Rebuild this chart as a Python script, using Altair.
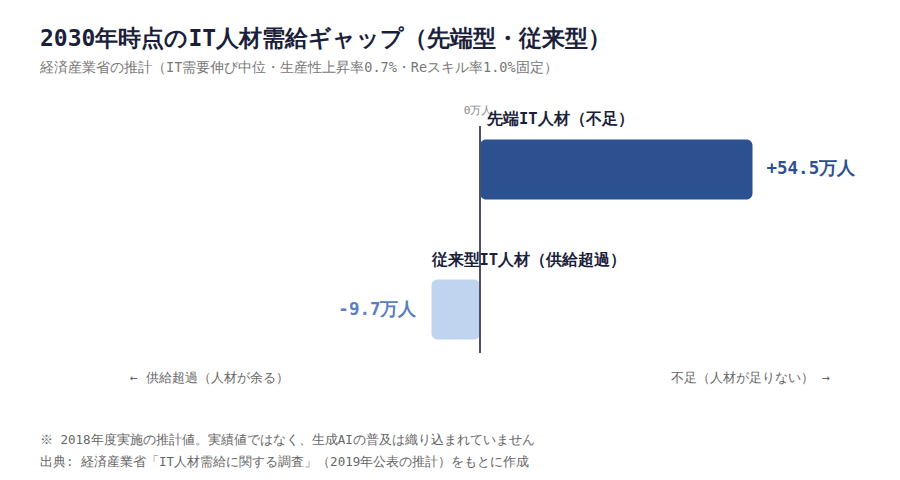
import altair as alt
import pandas as pd

# 2030年時点の需給ギャップ（万人）
categories = ["先端IT人材（不足）", "従来型IT人材（供給超過）"]
gaps = [54.5, -9.7]
value_labels = ["+54.5万人", "-9.7万人"]
bar_colors = ["#2d5090", "#c0d3ef"]
text_colors = ["#2d5090", "#5a7fc1"]

zero_label = "0万人"
arrow_left = "← 供給超過（人材が余る）"
arrow_right = "不足（人材が足りない） →"
note_1 = "※ 2018年度実施の推計値。実績値ではなく、生成AIの普及は織り込まれていません"
note_2 = "出典: 経済産業省「IT人材需給に関する調査」（2019年公表の推計）をもとに作成"

FONT = "monospace"

df = pd.DataFrame({
    "cat": categories,
    "gap": gaps,
    "label": value_labels,
    "bar_color": bar_colors,
    "text_color": text_colors,
})

x_scale = alt.Scale(domain=[-70, 70], nice=False)
y_enc = alt.Y("cat:N", sort=categories, axis=None,
              scale=alt.Scale(domain=categories, paddingInner=0.571, paddingOuter=0.096))

base = alt.Chart(df)
pos = base.transform_filter("datum.gap > 0")
neg = base.transform_filter("datum.gap < 0")

bars = base.mark_bar(cornerRadius=6).encode(
    x=alt.X("gap:Q", scale=x_scale, axis=None),
    x2=alt.datum(0),
    y=y_enc,
    color=alt.Color("bar_color:N", scale=None),
)

zero = alt.Chart(pd.DataFrame({"x": [0]})).mark_rule(color="#4a5068", strokeWidth=2).encode(
    x=alt.X("x:Q", scale=x_scale)
)
zero_text = alt.Chart(pd.DataFrame({"x": [0], "t": [zero_label]})).mark_text(
    fontSize=11, color="#888888", baseline="middle", dx=-2
).encode(x=alt.X("x:Q", scale=x_scale), y=alt.value(-15), text="t:N")

# category names sit above each bar, starting at the bar's left end
cat_style = dict(align="left", baseline="middle", dy=-50, fontSize=15.5,
                 fontWeight="bold", color="#1b1f3b")
cat_pos = pos.mark_text(dx=7, **cat_style).encode(
    x=alt.X("zero:Q", scale=x_scale), y=y_enc, text="cat:N"
).transform_calculate(zero="0")
cat_neg = neg.mark_text(dx=0, **cat_style).encode(
    x=alt.X("gap:Q", scale=x_scale), y=y_enc, text="cat:N"
)

pos_val = pos.mark_text(
    align="left", baseline="middle", dx=14, fontSize=17.5, fontWeight="bold"
).encode(
    x=alt.X("gap:Q", scale=x_scale), y=y_enc, text="label:N",
    color=alt.Color("text_color:N", scale=None),
)
neg_val = neg.mark_text(
    align="right", baseline="middle", dx=-15, fontSize=17.5, fontWeight="bold"
).encode(
    x=alt.X("gap:Q", scale=x_scale), y=y_enc, text="label:N",
    color=alt.Color("text_color:N", scale=None),
)

arrows_df = pd.DataFrame({"x": [-70, 70], "t": [arrow_left, arrow_right]})
arrow_l = alt.Chart(arrows_df.iloc[[0]]).mark_text(
    align="left", baseline="middle", fontSize=13, color="#666666"
).encode(x=alt.X("x:Q", scale=x_scale), y=alt.value(252), text="t:N")
arrow_r = alt.Chart(arrows_df.iloc[[1]]).mark_text(
    align="right", baseline="middle", fontSize=13, color="#666666"
).encode(x=alt.X("x:Q", scale=x_scale), y=alt.value(252), text="t:N")

note_a = alt.Chart(pd.DataFrame({"t": [note_1]})).mark_text(
    align="left", baseline="middle", fontSize=12.5, color="#666666"
).encode(x=alt.value(-90), y=alt.value(314), text="t:N")
note_b = alt.Chart(pd.DataFrame({"t": [note_2]})).mark_text(
    align="left", baseline="middle", fontSize=12.5, color="#666666"
).encode(x=alt.value(-90), y=alt.value(336), text="t:N")

chart = alt.layer(
    bars, zero, zero_text, cat_pos, cat_neg, pos_val, neg_val,
    arrow_l, arrow_r, note_a, note_b
).properties(
    width=700,
    height=227,
    autosize=alt.AutoSizeParams(type="none"),
    padding={"left": 122, "top": 118, "right": 62, "bottom": 119},
    title=alt.TitleParams(
        text="2030年時点のIT人材需給ギャップ（先端型・従来型）",
        subtitle="経済産業省の推計（IT需要伸び中位・生産性上昇率0.7%・Reスキル率1.0%固定）",
        anchor="start",
        frame="group",
        dx=-90,
        offset=31,
        fontSize=23,
        fontWeight="bold",
        color="#1b1f3b",
        subtitleFontSize=13.5,
        subtitleColor="#777777",
        subtitlePadding=10,
        font=FONT,
        subtitleFont=FONT,
    ),
).configure(font=FONT).configure_view(stroke=None)

chart.save("out.html", embed_options={"renderer": "svg", "actions": False})
